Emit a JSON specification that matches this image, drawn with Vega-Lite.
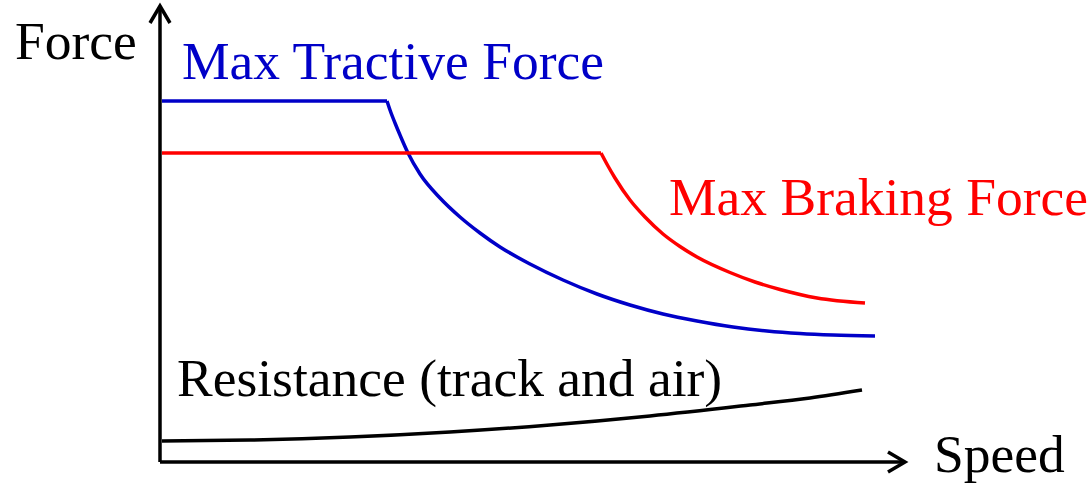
{
  "$schema": "https://vega.github.io/schema/vega-lite/v6.json",
  "width": 745,
  "height": 456,
  "autosize": {"type": "none"},
  "padding": {"left": 160, "top": 6, "right": 186, "bottom": 23},
  "background": "white",
  "config": {"view": {"stroke": null}},
  "datasets": {
    "curves": [
      {"series": "tractive", "part": "t1", "speed": 2, "force": 361},
      {"series": "tractive", "part": "t1", "speed": 227, "force": 361},
      {"series": "tractive", "part": "t2", "speed": 227, "force": 361},
      {"series": "tractive", "part": "t2", "speed": 230, "force": 352},
      {"series": "tractive", "part": "t2", "speed": 235, "force": 339},
      {"series": "tractive", "part": "t2", "speed": 240, "force": 327},
      {"series": "tractive", "part": "t2", "speed": 248, "force": 309},
      {"series": "tractive", "part": "t2", "speed": 260, "force": 288},
      {"series": "tractive", "part": "t2", "speed": 280, "force": 264},
      {"series": "tractive", "part": "t2", "speed": 300, "force": 245},
      {"series": "tractive", "part": "t2", "speed": 320, "force": 229},
      {"series": "tractive", "part": "t2", "speed": 340, "force": 215},
      {"series": "tractive", "part": "t2", "speed": 370, "force": 198},
      {"series": "tractive", "part": "t2", "speed": 403, "force": 182},
      {"series": "tractive", "part": "t2", "speed": 437, "force": 168},
      {"series": "tractive", "part": "t2", "speed": 470, "force": 157},
      {"series": "tractive", "part": "t2", "speed": 503, "force": 148},
      {"series": "tractive", "part": "t2", "speed": 537, "force": 141},
      {"series": "tractive", "part": "t2", "speed": 573, "force": 135},
      {"series": "tractive", "part": "t2", "speed": 607, "force": 131},
      {"series": "tractive", "part": "t2", "speed": 640, "force": 128.5},
      {"series": "tractive", "part": "t2", "speed": 673, "force": 127},
      {"series": "tractive", "part": "t2", "speed": 715, "force": 126},
      {"series": "braking", "part": "b1", "speed": 2, "force": 309},
      {"series": "braking", "part": "b1", "speed": 441, "force": 309},
      {"series": "braking", "part": "b2", "speed": 441, "force": 309},
      {"series": "braking", "part": "b2", "speed": 448, "force": 296},
      {"series": "braking", "part": "b2", "speed": 455, "force": 284},
      {"series": "braking", "part": "b2", "speed": 470, "force": 262},
      {"series": "braking", "part": "b2", "speed": 485, "force": 245},
      {"series": "braking", "part": "b2", "speed": 503, "force": 228},
      {"series": "braking", "part": "b2", "speed": 520, "force": 215.5},
      {"series": "braking", "part": "b2", "speed": 537, "force": 205},
      {"series": "braking", "part": "b2", "speed": 570, "force": 189.5},
      {"series": "braking", "part": "b2", "speed": 595, "force": 180},
      {"series": "braking", "part": "b2", "speed": 620, "force": 172.5},
      {"series": "braking", "part": "b2", "speed": 657, "force": 164},
      {"series": "braking", "part": "b2", "speed": 705, "force": 159},
      {"series": "resistance", "part": "r1", "speed": 2, "force": 21},
      {"series": "resistance", "part": "r1", "speed": 90, "force": 22},
      {"series": "resistance", "part": "r1", "speed": 190, "force": 25},
      {"series": "resistance", "part": "r1", "speed": 290, "force": 30},
      {"series": "resistance", "part": "r1", "speed": 390, "force": 37},
      {"series": "resistance", "part": "r1", "speed": 490, "force": 46},
      {"series": "resistance", "part": "r1", "speed": 590, "force": 57},
      {"series": "resistance", "part": "r1", "speed": 650, "force": 64},
      {"series": "resistance", "part": "r1", "speed": 702, "force": 72}
    ],
    "axes": [
      {"axis": "speed", "x": 0, "y": 0, "x2": 743, "y2": 0},
      {"axis": "force", "x": 0, "y": 0, "x2": 0, "y2": 454}
    ],
    "tips": [
      {"axis": "speed", "x": 745, "y": 0},
      {"axis": "force", "x": 0, "y": 456}
    ],
    "labels": [
      {"label": "Force", "series": "axis", "x": -145, "y": 403},
      {"label": "Speed", "series": "axis", "x": 774, "y": -10},
      {"label": "Max Tractive Force", "series": "tractive", "x": 22, "y": 383},
      {"label": "Max Braking Force", "series": "braking", "x": 509, "y": 247},
      {"label": "Resistance (track and air)", "series": "resistance", "x": 17, "y": 66}
    ]
  },
  "layer": [
    {
      "data": {"name": "axes"},
      "mark": {"type": "rule", "stroke": "black", "strokeWidth": 3.5, "clip": false},
      "encoding": {
        "x": {"field": "x", "type": "quantitative", "scale": {"domain": [0, 745], "nice": false, "zero": false}, "axis": null},
        "y": {"field": "y", "type": "quantitative", "scale": {"domain": [0, 456], "nice": false, "zero": false}, "axis": null},
        "x2": {"field": "x2"},
        "y2": {"field": "y2"}
      }
    },
    {
      "data": {"name": "tips"},
      "transform": [{"filter": "datum.axis === 'speed'"}],
      "mark": {"type": "point", "shape": "M-1.7,-1L0,0L-1.7,1", "size": 400, "filled": false, "stroke": "black", "strokeWidth": 3.5, "opacity": 1, "clip": false},
      "encoding": {
        "x": {"field": "x", "type": "quantitative"},
        "y": {"field": "y", "type": "quantitative"}
      }
    },
    {
      "data": {"name": "tips"},
      "transform": [{"filter": "datum.axis === 'force'"}],
      "mark": {"type": "point", "shape": "M-1,1.7L0,0L1,1.7", "size": 400, "filled": false, "stroke": "black", "strokeWidth": 3.5, "opacity": 1, "clip": false},
      "encoding": {
        "x": {"field": "x", "type": "quantitative"},
        "y": {"field": "y", "type": "quantitative"}
      }
    },
    {
      "data": {"name": "curves"},
      "mark": {"type": "line", "strokeWidth": 3.5, "interpolate": "monotone", "clip": false},
      "encoding": {
        "x": {"field": "speed", "type": "quantitative"},
        "y": {"field": "force", "type": "quantitative"},
        "detail": {"field": "part", "type": "nominal"},
        "color": {
          "field": "series",
          "type": "nominal",
          "scale": {"domain": ["tractive", "braking", "resistance", "axis"], "range": ["#0000C8", "#FF0000", "#000000", "#000000"]},
          "legend": null
        }
      }
    },
    {
      "data": {"name": "labels"},
      "mark": {"type": "text", "font": "Liberation Serif, Times New Roman, serif", "fontSize": 53.5, "align": "left", "baseline": "alphabetic", "clip": false},
      "encoding": {
        "x": {"field": "x", "type": "quantitative"},
        "y": {"field": "y", "type": "quantitative"},
        "text": {"field": "label"},
        "color": {"field": "series", "type": "nominal", "legend": null}
      }
    }
  ]
}
